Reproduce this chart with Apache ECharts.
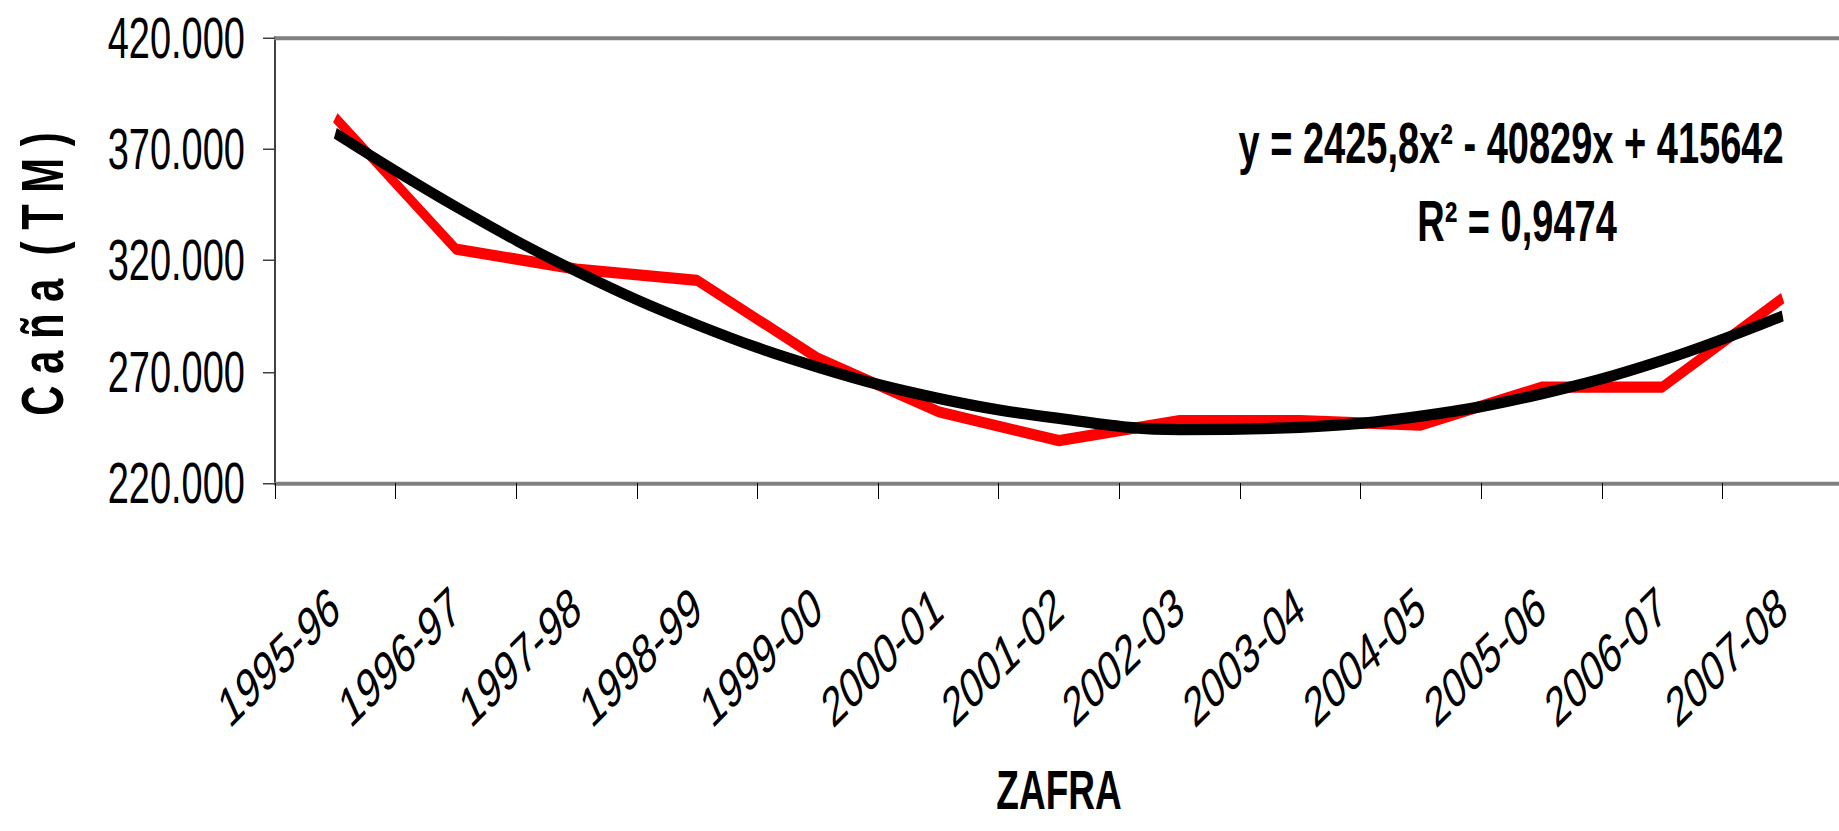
<!DOCTYPE html>
<html>
<head>
<meta charset="utf-8">
<script src="https://cdn.jsdelivr.net/npm/echarts@6/dist/echarts.min.js"></script>
<style>
    html, body { margin: 0; padding: 0; background: #fff; width: 1839px; height: 831px; }
    /* el grafico original esta estirado en vertical (x1.5) */
    #main { width: 1839px; height: 554px; transform: scaleY(1.5); transform-origin: 0 0; }
</style>
</head>
<body>
<div id="main"></div>
<script>
var zafras = ['1995-96', '1996-97', '1997-98', '1998-99', '1999-00', '2000-01', '2001-02',
    '2002-03', '2003-04', '2004-05', '2005-06', '2006-07', '2007-08'];
// caña molida (TM)
var cana = [384000, 325000, 316000, 311000, 276000, 252000, 239000,
    248000, 248000, 246000, 263000, 263000, 303000];
// linea de tendencia polinomica
var tendencia = [377000, 344000, 315000, 291000, 272000, 258000, 249000,
    244000, 245000, 250000, 260000, 275000, 295000];
var ecuacion = 'y = 2425,8x² - 40829x + 415642';
var r2 = 'R² = 0,9474';
var tituloY = 'C a ñ a  ( T M )';

var fuente = '"Liberation Sans", Arial, sans-serif';

var chart = echarts.init(document.getElementById('main'), null, { renderer: 'svg' });
var option = {
    backgroundColor: '#fff',
    animation: false,
    grid: { left: 275, top: 25, width: 1568, height: 297, containLabel: false, outerBoundsMode: 'none' },
    xAxis: [{
        type: 'category',
        data: zafras,
        boundaryGap: true,
        name: 'ZAFRA',
        nameLocation: 'middle',
        nameGap: 186,
        nameMoveOverlap: false,
        nameTextStyle: { color: '#000', fontFamily: fuente, fontWeight: 'bold', fontSize: 37 },
        axisLine: { lineStyle: { color: '#808080', width: 2.7 } },
        axisTick: { show: true, interval: 0, length: 10.7, lineStyle: { color: '#000', width: 1 } },
        axisLabel: {
            interval: 0,
            rotate: 33.7,
            margin: 78,
            color: '#000',
            fontFamily: fuente,
            fontSize: 37
        },
        splitLine: { show: false }
    }, {
        type: 'category',
        data: zafras,
        position: 'top',
        axisLine: { lineStyle: { color: '#808080', width: 2.7 } },
        axisTick: { show: false },
        axisLabel: { show: false },
        splitLine: { show: false }
    }],
    yAxis: {
        type: 'value',
        min: 220000,
        max: 420000,
        interval: 50000,
        axisLine: { show: true, lineStyle: { color: '#404040', width: 2 } },
        axisTick: { show: true, length: 12, lineStyle: { color: '#404040', width: 1 } },
        axisLabel: {
            margin: 30,
            color: '#000',
            fontFamily: fuente,
            fontSize: 38,
            formatter: function (v) { return (v / 1000) + '.000'; }
        },
        splitLine: { show: false }
    },
    graphic: [{
        type: 'text',
        x: 42, y: 182.7,
        rotation: Math.PI / 2,
        scaleX: 0.465,
        style: { text: tituloY, fill: '#000', font: 'bold 60px ' + fuente, align: 'center', verticalAlign: 'middle' }
    }, {
        type: 'text',
        x: 1511, y: 95.5,
        style: { text: ecuacion, fill: '#000', font: 'bold 38px ' + fuente, align: 'center', verticalAlign: 'middle' }
    }, {
        type: 'text',
        x: 1517, y: 147.3,
        style: { text: r2, fill: '#000', font: 'bold 38px ' + fuente, align: 'center', verticalAlign: 'middle' }
    }],
    series: [{
        name: 'Caña',
        type: 'line',
        data: cana,
        symbol: 'none',
        lineStyle: { color: '#ff0000', width: 7.5 },
        z: 2
    }, {
        name: 'Tendencia',
        type: 'line',
        data: tendencia,
        symbol: 'none',
        smooth: 0.4,
        lineStyle: { color: '#000', width: 7.5 },
        z: 3
    }]
};
chart.setOption(option);
window.onresize = function () {
    chart.resize();
};
</script>
</body>
</html>
